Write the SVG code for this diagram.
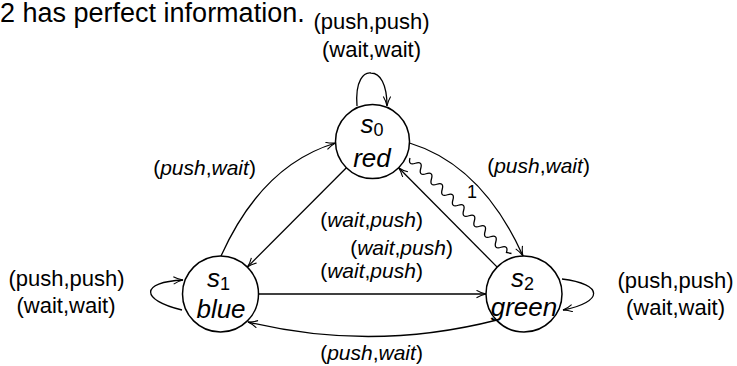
<svg xmlns="http://www.w3.org/2000/svg" width="737" height="366" viewBox="0 0 737 366">
<style>
text{font-family:"Liberation Sans",Arial,sans-serif;fill:#000}
.lbl{font-size:21px;text-anchor:middle}
.plain{font-size:22px;text-anchor:middle}
.nl{font-size:26px;text-anchor:middle}
.it{font-style:italic}
.node{fill:#fff;stroke:#000;stroke-width:1.5}
.edge{fill:none;stroke:#000;stroke-width:1.3}
</style>
<defs>
<marker id="arr" markerWidth="12" markerHeight="10" refX="10" refY="4" orient="auto" markerUnits="userSpaceOnUse">
<path d="M0.5,0.3 Q5,3 10,4 Q5,5 0.5,7.7" fill="none" stroke="#000" stroke-width="1.1"/>
</marker>
</defs>
<text x="0" y="22" font-size="27">2 has perfect information.</text>
<g id="connectors">
<path class="edge" d="M357 106 C 355 80, 364 72, 371 73 C 380 73, 387 84, 387 106" marker-end="url(#arr)"/>
<path class="edge" d="M221 256 Q 262 165 335.5 143" marker-end="url(#arr)"/>
<path class="edge" d="M346.4 167.7 L 247.3 267.1" marker-end="url(#arr)"/>
<path class="edge" d="M409.5 143 Q 482 165 523 256" marker-end="url(#arr)"/>
<path class="edge" d="M410 158 q -2.22 7.62 5.36 5.25 t 5.36 5.25 t 5.36 5.25 t 5.36 5.25 t 5.36 5.25 t 5.36 5.25 t 5.36 5.25 t 5.36 5.25 t 5.36 5.25 t 5.36 5.25 t 5.36 5.25 t 5.36 5.25 t 5.36 5.25 t 5.36 5.25 t 5.36 5.25 t 5.36 5.25 t 5.36 5.25 t 5.36 5.25 l 5 1"/>
<path class="edge" d="M497.2 267.1 L 398.6 167.7" marker-end="url(#arr)"/>
<path class="edge" d="M258.5 294 L 486 294" marker-end="url(#arr)"/>
<path class="edge" d="M497 320 Q 372 352 248 322" marker-end="url(#arr)"/>
<path class="edge" d="M182 310 C 140 300, 140 282, 183 280" marker-end="url(#arr)"/>
<path class="edge" d="M562 279 C 604 284, 604 302, 563 310" marker-end="url(#arr)"/>
</g>
<g id="s0">
<circle class="node" cx="372.5" cy="141.5" r="37"/>
<text class="nl" x="372" y="133"><tspan class="it">s</tspan><tspan font-size="18" dy="3">0</tspan></text>
<text class="nl it" x="372" y="167">red</text>
</g>
<g id="s1">
<circle class="node" cx="220.5" cy="294" r="38"/>
<text class="nl" x="218.5" y="287"><tspan class="it">s</tspan><tspan font-size="18" dy="3">1</tspan></text>
<text class="nl it" x="221" y="318">blue</text>
</g>
<g id="s2">
<circle class="node" cx="524" cy="294" r="38"/>
<text class="nl" x="522.5" y="287"><tspan class="it">s</tspan><tspan font-size="18" dy="3">2</tspan></text>
<text class="nl it" x="524" y="316">green</text>
</g>
<g id="labels">
<text class="plain" x="371.5" y="29">(push,push)</text>
<text class="plain" x="371.5" y="57">(wait,wait)</text>
<text class="plain" x="66.5" y="286">(push,push)</text>
<text class="plain" x="66" y="313">(wait,wait)</text>
<text class="plain" x="675.5" y="288">(push,push)</text>
<text class="plain" x="675.5" y="315">(wait,wait)</text>
<text class="lbl" x="204.5" y="175">(<tspan class="it">push</tspan>,<tspan class="it">wait</tspan>)</text>
<text class="lbl" x="538.5" y="173">(<tspan class="it">push</tspan>,<tspan class="it">wait</tspan>)</text>
<text class="lbl" x="371.5" y="227">(<tspan class="it">wait</tspan>,<tspan class="it">push</tspan>)</text>
<text class="lbl" x="401.5" y="255">(<tspan class="it">wait</tspan>,<tspan class="it">push</tspan>)</text>
<text class="lbl" x="371.5" y="278">(<tspan class="it">wait</tspan>,<tspan class="it">push</tspan>)</text>
<text class="lbl" x="371.5" y="360">(<tspan class="it">push</tspan>,<tspan class="it">wait</tspan>)</text>
<text x="472" y="198" font-size="18" text-anchor="middle">1</text>
</g>
</svg>
